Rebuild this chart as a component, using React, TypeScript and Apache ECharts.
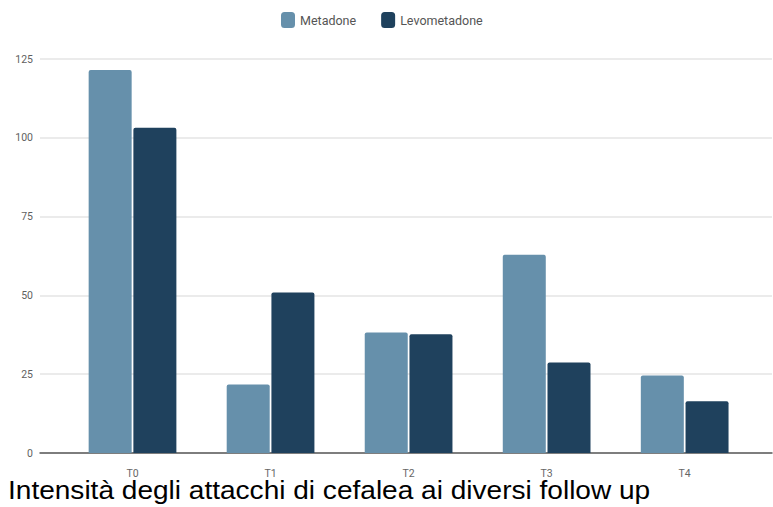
import React, { useEffect, useRef } from "react";
import * as echarts from "echarts";

const categories = ["T0", "T1", "T2", "T3", "T4"];
const metadone = [121.5, 21.7, 38.2, 62.9, 24.6];
const levometadone = [103.2, 50.9, 37.7, 28.7, 16.4];
const seriesNames = ["Metadone", "Levometadone"];
const caption = "Intensità degli attacchi di cefalea ai diversi follow up";

const COLOR_MET = "#6690ab";
const COLOR_LEVO = "#1f415d";
const AXIS_FONT = "Roboto, 'Liberation Sans', sans-serif";

export default function App() {
  const ref = useRef<HTMLDivElement>(null);

  useEffect(() => {
    document.body.style.margin = "0";
    const chart = echarts.init(ref.current!, null, { renderer: "svg" });
    const top = 59;
    const height = 394;
    chart.setOption({
      animation: false,
      backgroundColor: "#ffffff",
      legend: {
        data: seriesNames,
        left: 276,
        top: 7,
        icon: "roundRect",
        itemWidth: 14,
        itemHeight: 16,
        itemGap: 25,
        textStyle: { fontFamily: AXIS_FONT, fontSize: 12.5, color: "#555555" },
      },
      grid: [
        { left: 40, right: 1, top, height },
        { left: 63.5, right: 19.3, top, height },
      ],
      xAxis: [
        {
          gridIndex: 0,
          type: "category",
          data: [""],
          axisLine: { show: true, lineStyle: { color: "#5a5a5a", width: 1.5 } },
          axisTick: { show: false },
          axisLabel: { show: false },
        },
        {
          gridIndex: 1,
          type: "category",
          data: categories,
          axisLine: { show: false },
          axisTick: { show: false },
          axisLabel: {
            margin: 15,
            fontFamily: AXIS_FONT,
            fontSize: 10.5,
            color: "#666666",
          },
        },
      ],
      yAxis: [
        {
          gridIndex: 0,
          type: "value",
          min: 0,
          max: 125,
          interval: 25,
          axisLine: { show: false },
          axisTick: { show: false },
          axisLabel: {
            margin: 7,
            fontFamily: AXIS_FONT,
            fontSize: 10.5,
            color: "#5f5f5f",
          },
          splitLine: { lineStyle: { color: "#e4e4e4", width: 1.5 } },
        },
        {
          gridIndex: 1,
          type: "value",
          min: 0,
          max: 125,
          interval: 25,
          show: false,
        },
      ],
      series: [
        {
          name: seriesNames[0],
          type: "bar",
          xAxisIndex: 1,
          yAxisIndex: 1,
          data: metadone,
          barWidth: 43,
          barGap: "4%",
          itemStyle: { color: COLOR_MET, borderRadius: [2, 2, 0, 0] },
        },
        {
          name: seriesNames[1],
          type: "bar",
          xAxisIndex: 1,
          yAxisIndex: 1,
          data: levometadone,
          barWidth: 43,
          barGap: "4%",
          itemStyle: { color: COLOR_LEVO, borderRadius: [2, 2, 0, 0] },
        },
      ],
      graphic: [
        {
          type: "text",
          x: 8,
          y: 477,
          scaleX: 1.1,
          style: {
            text: caption,
            fontFamily: "'Liberation Sans', Arial, sans-serif",
            fontSize: 25.5,
            fill: "#000000",
          },
        },
      ],
    });
    return () => chart.dispose();
  }, []);

  return (
    <div
      ref={ref}
      style={{ position: "absolute", left: 0, top: 0, width: 773, height: 507 }}
    />
  );
}
